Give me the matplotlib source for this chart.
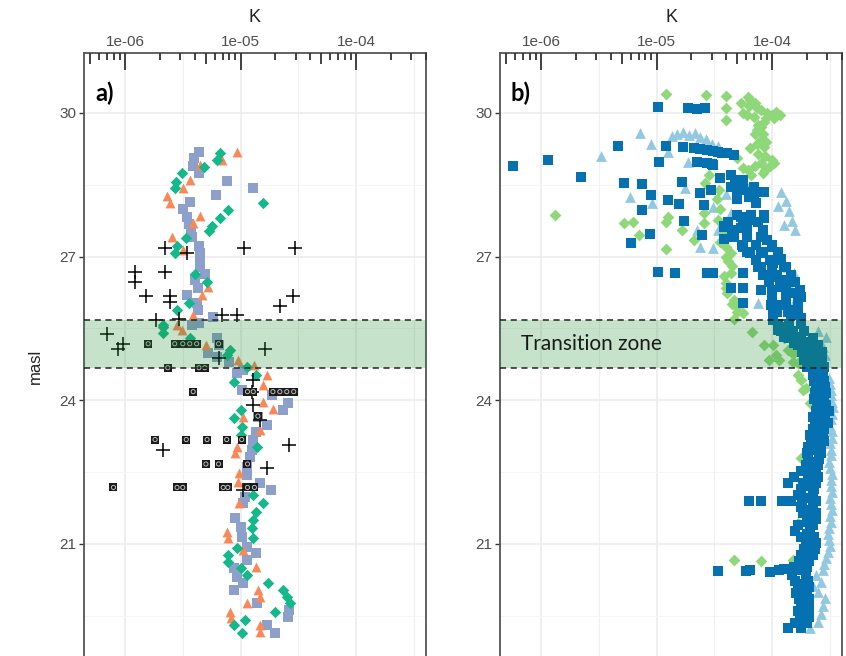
import matplotlib
import numpy as np

matplotlib.use("Agg")
import matplotlib.pyplot as plt
from matplotlib.lines import TICKDOWN

# K values are kept as log10(K); elevation in metres above sea level
a_squares = [
    (-5.36, 29.19), (-5.40, 29.06), (-5.41, 28.89), (-5.36, 28.75), (-5.12, 28.58),
    (-4.89, 28.43), (-5.21, 28.29), (-5.44, 28.14), (-5.50, 28.00), (-5.46, 27.83),
    (-5.45, 27.68), (-5.43, 27.52), (-5.42, 27.41), (-5.36, 27.22), (-5.35, 27.08),
    (-5.35, 26.93), (-5.35, 26.78), (-5.31, 26.64), (-5.39, 26.51), (-5.37, 26.35),
    (-5.46, 26.20), (-5.38, 26.03), (-5.37, 25.89), (-5.24, 25.74), (-5.42, 25.57),
    (-5.36, 25.62), (-5.20, 25.30), (-5.19, 25.16), (-5.28, 24.99), (-5.20, 24.91),
    (-5.10, 24.80), (-4.98, 24.63), (-5.03, 24.57), (-4.99, 24.22), (-4.73, 24.11),
    (-4.59, 23.95), (-4.63, 23.80), (-4.85, 23.65), (-4.77, 23.49), (-4.87, 23.34),
    (-4.89, 23.17), (-4.90, 22.96), (-4.92, 22.82), (-4.94, 22.61), (-4.94, 22.44),
    (-4.83, 22.28), (-4.74, 22.13), (-4.96, 21.98), (-4.98, 21.86), (-5.05, 21.54),
    (-5.00, 21.36), (-4.99, 21.15), (-4.94, 20.94), (-4.87, 20.81), (-4.94, 20.67),
    (-5.06, 20.50), (-5.03, 20.31), (-4.98, 20.19), (-5.06, 20.04), (-4.86, 19.77),
    (-4.58, 19.62), (-4.59, 19.48), (-4.77, 19.31), (-4.70, 19.14),
]
a_triangles = [
    (-5.03, 29.19), (-5.16, 29.02), (-5.35, 28.91), (-5.44, 28.60), (-5.50, 28.43),
    (-5.64, 28.27), (-5.61, 28.12), (-5.35, 27.85), (-5.41, 27.70), (-5.59, 27.41),
    (-5.50, 27.14), (-5.28, 26.37), (-5.33, 26.20), (-5.41, 25.78), (-5.55, 25.57),
    (-5.51, 25.47), (-5.30, 25.16), (-5.02, 24.84), (-4.88, 24.74), (-4.77, 24.53),
    (-4.81, 24.32), (-4.81, 23.97), (-4.72, 23.82), (-4.98, 23.65), (-4.83, 23.38),
    (-5.03, 23.03), (-5.05, 22.90), (-5.01, 22.48), (-5.02, 22.30), (-5.01, 21.86),
    (-5.12, 21.25), (-5.11, 21.13), (-4.98, 20.88), (-4.87, 20.52), (-4.85, 20.04),
    (-4.83, 19.90), (-4.94, 19.77), (-5.09, 19.58), (-5.08, 19.46), (-4.83, 19.31),
    (-4.83, 19.16),
]
a_diamonds = [
    (-5.18, 29.16), (-5.20, 29.02), (-5.32, 28.87), (-5.51, 28.75), (-5.56, 28.56),
    (-5.57, 28.43), (-4.81, 28.12), (-5.11, 27.97), (-5.18, 27.81), (-5.25, 27.64),
    (-5.27, 27.54), (-5.47, 27.39), (-5.55, 27.22), (-5.57, 27.08), (-5.39, 26.64),
    (-5.29, 26.47), (-5.45, 26.03), (-5.55, 25.89), (-5.67, 25.57), (-5.67, 25.53),
    (-5.67, 25.41), (-5.44, 25.30), (-5.09, 25.05), (-5.12, 24.95), (-4.94, 24.70),
    (-4.87, 24.53), (-5.06, 24.38), (-5.00, 23.80), (-5.06, 23.63), (-4.99, 23.44),
    (-5.00, 23.28), (-4.86, 23.03), (-4.89, 22.03), (-4.81, 21.86), (-4.87, 21.67),
    (-4.89, 21.50), (-4.90, 21.34), (-4.89, 21.13), (-5.03, 20.92), (-5.11, 20.77),
    (-5.11, 20.63), (-5.00, 20.50), (-4.94, 20.36), (-4.76, 20.19), (-4.63, 20.04),
    (-4.60, 19.90), (-4.57, 19.77), (-4.70, 19.58), (-4.96, 19.42), (-5.06, 19.31),
    (-4.99, 19.14),
]
a_crosses = [
    (-5.65, 27.18), (-5.46, 27.08), (-4.97, 27.18), (-4.53, 27.18), (-5.91, 26.68),
    (-5.91, 26.47), (-5.65, 26.68), (-5.82, 26.18), (-5.61, 26.18), (-5.61, 26.05),
    (-4.66, 25.97), (-4.55, 26.18), (-5.73, 25.68), (-5.53, 25.70), (-5.16, 25.78),
    (-5.03, 25.78), (-6.16, 25.39), (-6.06, 25.07), (-6.02, 25.18), (-4.79, 25.07),
    (-5.19, 24.89), (-4.89, 24.43), (-4.90, 24.18), (-4.89, 23.90), (-4.83, 23.59),
    (-4.58, 23.07), (-5.67, 22.96), (-4.77, 22.59), (-4.98, 22.13),
]
a_boxes = [
    (-5.80, 25.18), (-5.57, 25.18), (-5.50, 25.18), (-5.44, 25.18), (-5.38, 25.18),
    (-5.19, 25.18), (-5.63, 24.68), (-5.36, 24.68), (-5.31, 24.68), (-5.41, 24.18),
    (-4.94, 24.18), (-4.89, 24.18), (-4.72, 24.18), (-4.66, 24.18), (-4.60, 24.18),
    (-4.54, 24.18), (-4.85, 23.67), (-5.74, 23.18), (-5.47, 23.18), (-5.29, 23.18),
    (-5.12, 23.18), (-4.99, 23.18), (-5.30, 22.67), (-5.19, 22.67), (-4.94, 22.67),
    (-6.10, 22.18), (-5.55, 22.18), (-5.50, 22.18), (-5.15, 22.18), (-5.11, 22.18),
    (-4.94, 22.18), (-4.88, 22.18),
]

b_squares = [
    # scattered upper points
    (-6.24, 28.89), (-5.94, 29.02), (-5.65, 28.66), (-5.33, 29.31), (-5.28, 28.54),
    (-5.13, 28.52), (-5.05, 28.29), (-5.13, 27.97), (-5.22, 27.29), (-5.06, 27.47),
    (-4.99, 30.13), (-4.92, 29.31), (-4.98, 28.98), (-4.90, 28.18), (-4.81, 28.10),
    (-4.78, 28.56), (-4.76, 27.75), (-4.99, 26.68), (-4.84, 26.66), (-4.73, 30.10),
    (-4.65, 30.08), (-4.58, 30.10), (-4.52, 28.94), (-4.62, 28.33), (-4.59, 28.08),
    (-4.53, 28.39), (-4.45, 28.64), (-4.61, 27.45), (-4.42, 27.64), (-4.42, 27.37),
    (-4.56, 26.66), (-4.51, 26.66), (-4.36, 26.35), (-4.25, 26.03), (-4.10, 26.30),
    # arc near 29 m
    (-4.77, 29.29), (-4.68, 29.27), (-4.62, 29.25), (-4.56, 29.23), (-4.51, 29.21),
    (-4.47, 29.19), (-4.43, 29.16), (-4.39, 29.16), (-4.33, 29.12), (-4.65, 28.98),
    (-4.56, 28.96), (-4.51, 28.91),
    # dense cluster above the transition zone
    (-4.30, 28.60), (-4.25, 28.60), (-4.27, 28.46), (-4.16, 28.46), (-4.07, 28.35),
    (-4.16, 28.29), (-4.36, 28.70), (-4.36, 28.45), (-4.30, 28.30), (-4.19, 28.35),
    (-4.14, 28.12), (-4.42, 27.62), (-4.27, 27.83), (-4.27, 27.60), (-4.19, 27.77),
    (-4.07, 27.81), (-4.33, 27.41), (-4.25, 27.20), (-4.10, 27.41), (-4.04, 27.35),
    (-4.19, 27.08), (-4.10, 27.08), (-3.95, 27.08), (-4.00, 27.20), (-3.92, 26.95),
    (-4.10, 26.78), (-3.99, 26.87), (-3.90, 26.78), (-4.25, 26.66), (-4.01, 26.58),
    (-3.87, 26.51), (-4.25, 26.35), (-3.93, 26.37), (-3.81, 26.24), (-3.75, 26.16),
    (-4.01, 25.99), (-3.90, 25.99), (-3.78, 26.05), (-3.99, 25.78), (-3.84, 25.78),
    (-4.32, 28.55), (-4.25, 28.40), (-4.20, 28.25), (-4.30, 28.20),
    (-4.30, 27.87), (-4.18, 27.87), (-4.07, 27.87), (-4.38, 27.72), (-4.25, 27.72),
    (-4.12, 27.72), (-4.35, 27.56), (-4.22, 27.56), (-4.08, 27.56), (-4.35, 27.41),
    (-4.22, 27.41), (-4.08, 27.41), (-4.26, 27.24), (-4.14, 27.24), (-4.00, 27.24),
    (-4.22, 27.10), (-4.08, 27.10), (-3.95, 27.10), (-4.14, 26.93), (-4.02, 26.93),
    (-3.92, 26.93), (-4.12, 26.78), (-4.00, 26.78), (-3.88, 26.78), (-4.08, 26.62),
    (-3.96, 26.62), (-3.84, 26.62), (-4.03, 26.47), (-3.92, 26.47), (-3.80, 26.47),
    (-4.00, 26.30), (-3.88, 26.30), (-3.76, 26.30), (-4.00, 26.16), (-3.88, 26.16),
    (-3.77, 26.16), (-3.98, 25.99), (-3.88, 25.99), (-3.78, 25.99), (-3.96, 25.85),
    (-3.86, 25.85), (-3.78, 25.85),
    # transition zone
    (-3.99, 25.99), (-3.84, 25.89), (-3.75, 25.72), (-3.99, 25.68), (-3.93, 25.53),
    (-3.95, 25.47), (-3.84, 25.41), (-3.90, 25.32), (-3.75, 25.32), (-3.81, 25.20),
    (-3.67, 25.22), (-3.73, 25.11), (-3.61, 25.11), (-3.67, 24.99), (-3.58, 24.99),
    (-3.69, 24.84), (-3.61, 24.84), (-3.65, 24.74), (-3.65, 24.63),
    (-3.95, 25.60), (-3.85, 25.60), (-3.75, 25.60), (-3.92, 25.45), (-3.82, 25.45),
    (-3.72, 25.45), (-3.85, 25.30), (-3.75, 25.30), (-3.65, 25.30), (-3.78, 25.15),
    (-3.68, 25.15), (-3.60, 25.15), (-3.74, 25.00), (-3.65, 25.00), (-3.57, 25.00),
    (-3.72, 24.85), (-3.63, 24.85), (-3.57, 24.85), (-3.70, 24.70), (-3.62, 24.70),
    (-3.55, 24.70),
    # column below
    (-3.65, 24.53), (-3.56, 24.53), (-3.64, 24.40), (-3.55, 24.40), (-3.62, 24.28),
    (-3.54, 24.28), (-3.63, 24.15), (-3.53, 24.15), (-3.64, 24.03), (-3.55, 24.03),
    (-3.61, 23.90), (-3.53, 23.90), (-3.62, 23.78), (-3.51, 23.78), (-3.65, 23.65),
    (-3.54, 23.65), (-3.63, 23.53), (-3.52, 23.53), (-3.65, 23.40), (-3.55, 23.40),
    (-3.67, 23.28), (-3.56, 23.28), (-3.66, 23.15), (-3.55, 23.15), (-3.69, 23.03),
    (-3.58, 23.03), (-3.70, 22.90), (-3.58, 22.90), (-3.69, 22.78), (-3.59, 22.78),
    (-3.71, 22.65), (-3.60, 22.65), (-3.75, 22.53), (-3.62, 22.53), (-3.81, 22.40),
    (-3.69, 22.40), (-3.60, 22.40), (-3.86, 22.28), (-3.73, 22.28), (-3.62, 22.28),
    (-3.75, 22.15), (-3.64, 22.15), (-3.78, 22.03), (-3.65, 22.03), (-4.20, 21.90),
    (-4.10, 21.90), (-3.91, 21.90), (-3.84, 21.90), (-3.74, 21.90), (-3.62, 21.90),
    (-3.75, 21.78), (-3.65, 21.78), (-3.73, 21.65), (-3.62, 21.65), (-3.70, 21.52),
    (-3.62, 21.52), (-3.78, 21.40), (-3.65, 21.40), (-3.80, 21.27), (-3.67, 21.27),
    (-3.75, 21.15), (-3.64, 21.15), (-3.71, 21.02), (-3.62, 21.02), (-3.72, 20.90),
    (-3.63, 20.90), (-3.75, 20.77), (-3.65, 20.77), (-3.77, 20.65), (-3.68, 20.65),
    (-3.81, 20.52), (-3.70, 20.52), (-4.47, 20.44), (-4.23, 20.44), (-4.19, 20.46),
    (-4.02, 20.42), (-3.94, 20.46), (-3.90, 20.48), (-3.83, 20.36), (-3.71, 20.36),
    (-3.80, 20.23), (-3.69, 20.23), (-3.78, 20.10), (-3.68, 20.10), (-3.79, 19.98),
    (-3.70, 19.98), (-3.77, 19.85), (-3.68, 19.85), (-3.75, 19.73), (-3.68, 19.73),
    (-3.78, 19.60), (-3.68, 19.60), (-3.76, 19.48), (-3.68, 19.48), (-3.80, 19.35),
    (-3.70, 19.35), (-3.86, 19.25), (-3.75, 19.25),
    # middle of the column
    (-3.59, 24.46), (-3.58, 24.22), (-3.57, 23.96), (-3.57, 23.72), (-3.58, 23.46),
    (-3.60, 23.21), (-3.63, 22.96), (-3.64, 22.71), (-3.67, 22.46), (-3.69, 22.21),
    (-3.69, 21.96), (-3.68, 21.71), (-3.70, 21.46), (-3.70, 21.21), (-3.67, 20.96),
    (-3.70, 20.71), (-3.75, 20.46), (-3.74, 20.17), (-3.73, 19.92), (-3.72, 19.66),
    (-3.74, 19.41),
]
b_triangles = [
    (-5.48, 29.10), (-5.14, 29.58), (-5.05, 29.36), (-4.90, 29.19), (-4.87, 29.52),
    (-4.82, 29.56), (-4.77, 29.60), (-4.72, 29.54), (-4.67, 29.58), (-4.62, 29.50),
    (-4.57, 29.45), (-4.52, 29.35), (-4.47, 29.30), (-4.73, 28.98), (-5.23, 28.25),
    (-5.04, 28.12), (-4.75, 28.43), (-4.51, 28.04), (-4.65, 27.56), (-4.62, 27.20),
    (-4.51, 27.18), (-4.47, 27.56), (-4.36, 27.91), (-4.12, 26.03), (-3.92, 28.35),
    (-3.95, 28.05), (-3.88, 28.15), (-3.85, 27.95), (-3.83, 27.75), (-3.90, 27.65),
    (-3.80, 27.55), (-3.87, 26.78), (-3.81, 26.66), (-4.40, 28.30), (-3.85, 26.40),
    (-3.78, 26.30), (-3.80, 26.10),
    (-3.53, 25.32), (-3.56, 25.11), (-3.54, 24.95), (-3.58, 24.74), (-3.60, 25.45),
    (-3.51, 24.47), (-3.49, 24.22), (-3.48, 23.97), (-3.48, 23.72), (-3.50, 23.47),
    (-3.48, 23.22), (-3.49, 22.96), (-3.51, 22.71), (-3.48, 22.46), (-3.49, 22.21),
    (-3.50, 21.96), (-3.48, 21.71), (-3.49, 21.46), (-3.52, 21.21), (-3.50, 20.96),
    (-3.53, 20.71), (-3.56, 20.46), (-3.62, 20.35), (-3.58, 20.21), (-3.65, 20.13),
    (-3.60, 20.00), (-3.54, 19.87), (-3.56, 19.71), (-3.58, 19.54), (-3.60, 19.37),
    (-3.67, 19.25), (-3.50, 24.35), (-3.49, 24.10), (-3.47, 23.85), (-3.49, 23.60),
    (-3.48, 23.35), (-3.50, 23.10), (-3.49, 22.85), (-3.50, 22.58), (-3.49, 22.33),
    (-3.48, 22.08), (-3.49, 21.84), (-3.50, 21.58), (-3.51, 21.33), (-3.51, 21.08),
    (-3.52, 20.84), (-3.55, 20.58),
]
b_diamonds = [
    (-4.92, 30.40), (-4.57, 30.38), (-4.40, 30.35), (-4.40, 30.10), (-4.40, 29.85),
    (-4.27, 30.21), (-4.21, 30.33), (-4.19, 30.27), (-4.25, 30.00), (-4.16, 29.92),
    (-4.04, 30.00), (-3.97, 30.02), (-4.07, 29.81), (-4.13, 29.64), (-4.10, 29.44),
    (-4.07, 29.29), (-4.19, 29.27), (-4.10, 28.96), (-4.00, 29.02), (-4.06, 28.81),
    (-4.21, 28.81), (-4.30, 29.06), (-4.55, 28.71), (-4.58, 28.54), (-4.46, 28.39),
    (-4.10, 30.05), (-4.00, 29.95), (-4.13, 30.10), (-4.22, 29.95), (-4.12, 29.75),
    (-4.15, 29.55), (-4.06, 29.10), (-4.15, 28.90), (-4.25, 28.85),
    (-4.20, 30.15), (-4.15, 30.20), (-4.05, 29.90), (-3.98, 29.90), (-3.93, 29.95),
    (-4.10, 29.70), (-4.08, 29.55), (-4.13, 29.35), (-4.05, 29.40), (-4.12, 29.15),
    (-4.02, 28.90), (-3.98, 28.95), (-4.08, 28.75), (-4.18, 28.70),
    (-5.88, 27.87), (-5.28, 27.70), (-5.20, 27.72), (-5.15, 27.45), (-4.90, 27.83),
    (-4.92, 27.72), (-4.78, 27.56), (-4.92, 27.16), (-4.68, 27.35), (-4.59, 27.70),
    (-4.59, 27.91), (-4.47, 27.77), (-4.36, 27.08), (-4.36, 26.66), (-4.39, 26.24),
    (-4.30, 25.95), (-4.25, 25.82), (-4.19, 28.46), (-4.16, 28.18), (-4.33, 25.70),
    (-4.40, 27.20), (-4.38, 26.90), (-4.40, 26.45), (-4.33, 26.10), (-4.35, 26.80),
    (-4.48, 28.20), (-4.45, 28.00), (-4.42, 27.50), (-4.45, 27.30), (-4.40, 27.00),
    (-4.42, 26.60), (-4.40, 26.35), (-4.35, 26.00), (-4.30, 25.85),
    (-4.17, 25.43), (-4.07, 25.16), (-3.99, 25.16), (-3.84, 25.01), (-4.03, 24.84),
    (-3.94, 24.84), (-3.82, 24.80), (-3.78, 24.53), (-3.71, 24.26), (-3.67, 23.95),
    (-3.67, 23.11), (-3.69, 22.90), (-3.75, 22.80), (-3.78, 21.44), (-3.73, 20.88),
    (-4.33, 20.67), (-4.10, 20.65), (-3.82, 20.67), (-3.78, 20.04), (-3.75, 19.56),
    (-3.86, 25.05), (-3.81, 24.99), (-3.78, 24.78), (-3.75, 24.43), (-3.73, 24.22),
    (-3.90, 25.30), (-3.97, 24.95),
]

zone_bottom, zone_top = 24.68, 25.68
k_min, k_max = 10 ** -6.355, 10 ** -3.395
y_min, y_max = 18.16, 31.25

col_orange = "#F98757"
col_teal = "#14B88A"
col_lav = "#8DA0CB"
col_dblue = "#0571B0"
col_lblue = "#92C8E0"
col_lgreen = "#8FD87A"
tick_col = "#4D4D4D"
frame_col = "#555555"


def unzip(pairs):
    arr = np.array(pairs)
    return 10 ** arr[:, 0], arr[:, 1]


def style_panel(ax, label):
    ax.set_xscale("log")
    ax.set_xlim(k_min, k_max)
    ax.set_ylim(y_min, y_max)
    ax.set_facecolor("white")

    # grid: decades + half decades, 3 m steps + halves
    for v in [1e-6, 1e-5, 1e-4]:
        ax.axvline(v, color="#EBEBEB", lw=1.1, zorder=0)
    for v in [10 ** -5.5, 10 ** -4.5, 10 ** -3.5]:
        ax.axvline(v, color="#F0F0F0", lw=0.8, zorder=0)
    for v in [21, 24, 27, 30]:
        ax.axhline(v, color="#EBEBEB", lw=1.1, zorder=0)
    for v in [19.5, 22.5, 25.5, 28.5]:
        ax.axhline(v, color="#F5F5F5", lw=0.6, zorder=0)

    ax.xaxis.tick_top()
    ax.xaxis.set_label_position("top")
    ax.set_xticks([1e-6, 1e-5, 1e-4])
    ax.set_xticklabels(["1e-06", "1e-05", "1e-04"])
    ax.xaxis.set_minor_locator(matplotlib.ticker.NullLocator())
    ax.tick_params(axis="x", length=0, pad=3, labelsize=11, labelcolor=tick_col)
    ax.set_xlabel("K", fontsize=13, color="#222222", labelpad=9)

    ax.set_yticks([21, 24, 27, 30])
    ax.tick_params(axis="y", length=3.5, width=1, color="#333333",
                   labelsize=11, labelcolor=tick_col, pad=2)

    for side in ["top", "left", "right"]:
        ax.spines[side].set_color(frame_col)
        ax.spines[side].set_linewidth(1.3)
    ax.spines["bottom"].set_visible(False)

    # log ticks hanging from the top border
    trans = ax.get_xaxis_transform()
    decades = [1e-7, 1e-6, 1e-5, 1e-4, 1e-3]
    long_t = [d for d in decades if k_min <= d <= k_max]
    mid_t = [5 * d for d in decades if k_min <= 5 * d <= k_max]
    short_t = [m * d for d in decades for m in (2, 3, 4, 6, 7, 8, 9)
               if k_min <= m * d <= k_max]
    for pos, size in [(long_t, 12), (mid_t, 8), (short_t, 5)]:
        ax.plot(pos, [1] * len(pos), ls="none", marker=TICKDOWN, markersize=size,
                markeredgewidth=1.3, color="#333333", transform=trans,
                clip_on=False, zorder=6)

    ax.text(0.032, 0.935, label, transform=ax.transAxes, fontsize=17,
            fontweight="bold", family=["Lato", "DejaVu Sans"], color="black",
            va="center", ha="left", zorder=7)


def add_zone(ax):
    ax.axhspan(zone_bottom, zone_top, facecolor="#1E8C32", alpha=0.25,
               lw=0, zorder=4)
    for v in (zone_bottom, zone_top):
        ax.axhline(v, color="#222222", lw=1.1, ls=(0, (4, 3)), zorder=5)


plt.rcParams["font.family"] = ["Liberation Sans", "DejaVu Sans"]
fig = plt.figure(figsize=(8.46, 6.56), dpi=100)
ax_a = fig.add_axes([84 / 846, 1 - 680 / 656, 342 / 846, 627 / 656])
ax_b = fig.add_axes([500 / 846, 1 - 680 / 656, 342 / 846, 627 / 656])

# panel a
x, y = unzip(a_squares)
ax_a.scatter(x, y, marker="s", s=44, color=col_lav, lw=0, zorder=2)
x, y = unzip(a_triangles)
ax_a.scatter(x, y, marker="^", s=50, color=col_orange, lw=0, zorder=2)
x, y = unzip(a_diamonds)
ax_a.scatter(x, y, marker="D", s=34, color=col_teal, lw=0, zorder=2)
x, y = unzip(a_crosses)
ax_a.scatter(x, y, marker="+", s=110, color="black", lw=1.1, zorder=3)
x, y = unzip(a_boxes)
ax_a.scatter(x, y, marker="s", s=38, color="#1A1A1A", lw=0, zorder=3)
ax_a.scatter(x, y, marker="o", s=9, facecolor="none", edgecolor="#BDBDBD",
             lw=0.7, zorder=3)
add_zone(ax_a)
style_panel(ax_a, "a)")
ax_a.set_ylabel("masl", fontsize=12, color="#222222", labelpad=12)

# panel b
x, y = unzip(b_triangles)
ax_b.scatter(x, y, marker="^", s=60, color=col_lblue, lw=0, zorder=2)
x, y = unzip(b_diamonds)
ax_b.scatter(x, y, marker="D", s=36, color=col_lgreen, lw=0, zorder=2)
x, y = unzip(b_squares)
ax_b.scatter(x, y, marker="s", s=56, color=col_dblue, lw=0, zorder=2)
add_zone(ax_b)
style_panel(ax_b, "b)")
ax_b.text(0.061, (zone_bottom + zone_top) / 2, "Transition zone",
          transform=ax_b.get_yaxis_transform(), fontsize=15,
          family=["Lato", "DejaVu Sans"], color="#1A1A1A", va="center",
          ha="left", zorder=7)

fig.savefig("out.png", dpi=100)
